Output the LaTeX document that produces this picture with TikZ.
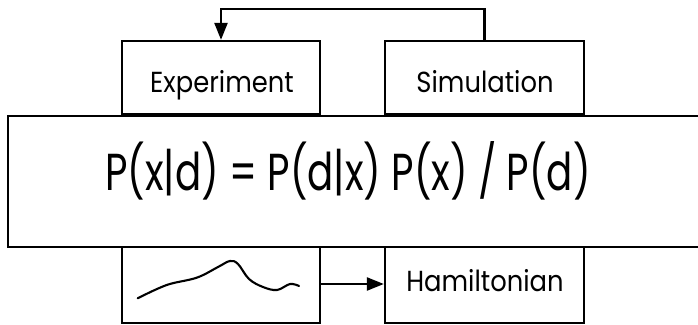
\documentclass[tikz,border=0pt]{standalone}
\usepackage{fontspec}
\setmainfont{Poppins}
\usetikzlibrary{arrows.meta}
\tikzset{
  box/.style={draw=black, line width=2.3pt, rectangle, inner sep=0pt, fill=white},
  lbl/.style={font=\fontsize{29}{32}\selectfont, xscale=0.89},
  conn/.style={draw=black, line width=2.3pt},
  arr/.style={-{Triangle[length=17pt,width=13pt]}}
}
\begin{document}
\begin{tikzpicture}[x=1pt,y=-1pt]
\useasboundingbox (0,0) rectangle (698,324);
\clip (0,0) rectangle (698,324);
\fill[white] (0,0) rectangle (698,324);
% boxes
\node[box, minimum width=198pt, minimum height=73pt] (exp) at (221,77.5) {};
\node[box, minimum width=199pt, minimum height=73pt] (sim) at (484.5,77.5) {};
\node[box, minimum width=198pt, minimum height=78pt] (curve) at (221,284) {};
\node[box, minimum width=199pt, minimum height=78pt] (ham) at (484.5,284) {};
\node[box, minimum width=720pt, minimum height=131pt, anchor=north west] (bayes) at (7,114.5) {};
% labels
\node[lbl, anchor=base, transform shape] (expt) at (222,92) {Experiment};
\node[lbl, anchor=base, transform shape] (simt) at (485,92) {Simulation};
\node[lbl, anchor=base, transform shape] (hamt) at (485,291) {Hamiltonian};
\node[font=\fontsize{52}{56}\selectfont, anchor=base, xscale=0.745, transform shape] (eq) at (348,190) {P(x|d) = P(d|x) P(x) / P(d)};
% curve sketch
\draw[line width=2.1pt, line cap=round, line join=round] plot[smooth, tension=0.6] coordinates {(137.7,298.3) (166.7,285) (196.7,277.7) (218,267) (230,261) (238,264) (249,279) (263,287) (277,290) (290,284) (299,286)};
% connectors
\coordinate (tl) at (exp.north |- 0,9);
\coordinate (tr) at (sim.north |- 0,9);
\draw[conn, arr] (sim.north) -- (tr) -- (tl) -- (exp.north);
\draw[conn, arr] (curve.east) -- (ham.west);
\end{tikzpicture}
\end{document}
